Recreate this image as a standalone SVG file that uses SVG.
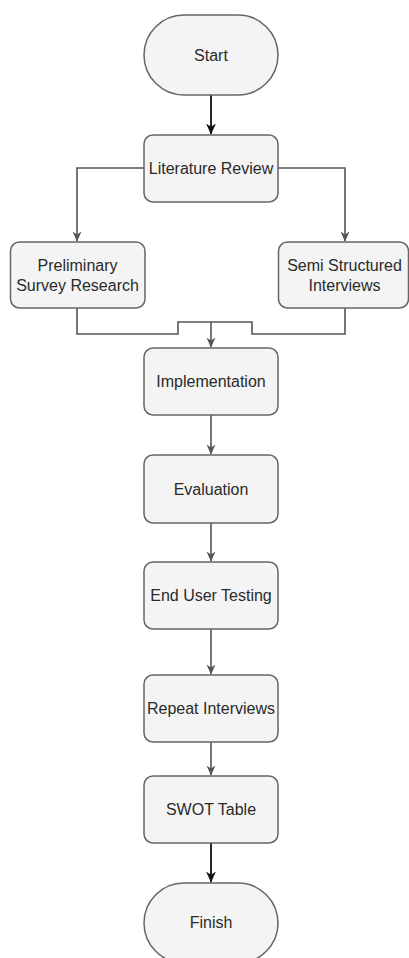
<svg xmlns="http://www.w3.org/2000/svg" width="409" height="958" viewBox="0 0 409 958">
<defs>
<style>
.box{fill:#f4f4f4;stroke:#666;stroke-width:1.5}
.t{font-family:"Liberation Sans",Arial,sans-serif;font-size:16px;fill:#2a2a2a;text-anchor:middle}
.c{fill:none;stroke:#555;stroke-width:1.6}
.k{fill:none;stroke:#111;stroke-width:1.8}
</style>
<marker id="ag" viewBox="0 0 10 10" refX="9.5" refY="5" markerWidth="10" markerHeight="10" markerUnits="userSpaceOnUse" orient="auto">
<path d="M0,0.5 L10,5 L0,9.5 L3,5 Z" fill="#555"/>
</marker>
<marker id="ak" viewBox="0 0 10 10" refX="9.5" refY="5" markerWidth="11" markerHeight="11" markerUnits="userSpaceOnUse" orient="auto">
<path d="M0,0.5 L10,5 L0,9.5 L3,5 Z" fill="#111"/>
</marker>
</defs>
<rect width="409" height="958" fill="#fff"/>
<g id="connectors">
<path class="k" d="M211,95 V134" marker-end="url(#ak)"/>
<path class="c" d="M144,168 H77 V241" marker-end="url(#ag)"/>
<path class="c" d="M278,168 H345 V241" marker-end="url(#ag)"/>
<path class="c" d="M77,308 V334 H178 V322 H252 V334 H345 V308"/>
<path class="c" d="M211,322 V347" marker-end="url(#ag)"/>
<path class="c" d="M211,415 V454" marker-end="url(#ag)"/>
<path class="c" d="M211,523 V561" marker-end="url(#ag)"/>
<path class="c" d="M211,629 V674" marker-end="url(#ag)"/>
<path class="c" d="M211,742 V775" marker-end="url(#ag)"/>
<path class="k" d="M211,843 V882" marker-end="url(#ak)"/>
</g>
<g id="start"><rect class="box" x="144" y="15" width="134" height="80" rx="40"/><text class="t" x="211" y="60.5">Start</text></g>
<g id="literature"><rect class="box" x="144" y="135" width="134" height="67" rx="9"/><text class="t" x="211" y="174">Literature Review</text></g>
<g id="preliminary"><rect class="box" x="10.5" y="242" width="134.5" height="66" rx="9"/><text class="t" x="77.5" y="270.5">Preliminary</text><text class="t" x="77.5" y="290.5">Survey Research</text></g>
<g id="semi"><rect class="box" x="278.5" y="242" width="130" height="66" rx="9"/><text class="t" x="344.5" y="270.5">Semi Structured</text><text class="t" x="344.5" y="290.5">Interviews</text></g>
<g id="implementation"><rect class="box" x="144" y="348" width="134" height="67" rx="9"/><text class="t" x="211" y="387">Implementation</text></g>
<g id="evaluation"><rect class="box" x="144" y="455" width="134" height="68" rx="9"/><text class="t" x="211" y="494.5">Evaluation</text></g>
<g id="endusertesting"><rect class="box" x="144" y="562" width="134" height="67" rx="9"/><text class="t" x="211" y="601">End User Testing</text></g>
<g id="repeat"><rect class="box" x="144" y="675" width="134" height="67" rx="9"/><text class="t" x="211" y="714">Repeat Interviews</text></g>
<g id="swot"><rect class="box" x="144" y="776" width="134" height="67" rx="9"/><text class="t" x="211" y="815">SWOT Table</text></g>
<g id="finish"><rect class="box" x="144" y="883" width="134" height="80" rx="40"/><text class="t" x="211" y="927.5">Finish</text></g>
</svg>
